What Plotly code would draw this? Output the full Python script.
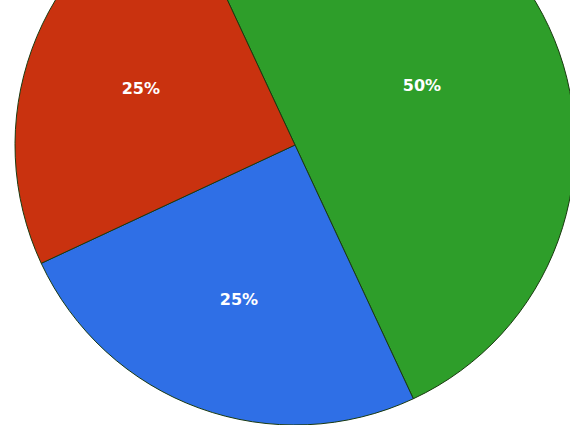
import plotly.graph_objects as go

labels = ["Green", "Blue", "Red"]
values = [50, 25, 25]
colors = ["#2e9e2a", "#2f6fe6", "#c9320f"]

fig = go.Figure()
fig.add_trace(go.Pie(
    labels=labels, values=values, sort=False, direction="clockwise",
    rotation=335,
    marker=dict(colors=colors, line=dict(color="#1a3a10", width=1)),
    textinfo="percent", textposition="inside", insidetextorientation="horizontal",
    textfont=dict(family="DejaVu Sans", size=16, color="white", weight="bold"),
    showlegend=False,
    domain=dict(x=[0, 1], y=[0, 1]),
))
fig.update_layout(width=580, height=560, margin=dict(l=0, r=0, t=0, b=0),
                  paper_bgcolor="white")
# shift the figure up so the pie is cropped at the top like the reference
fig.write_html("out.html", post_script=(
    "document.body.style.margin='0';document.body.style.overflow='hidden';"
    "var d=document.getElementById('{plot_id}');"
    "d.style.marginTop='-135px';d.style.marginLeft='5px';"
))
